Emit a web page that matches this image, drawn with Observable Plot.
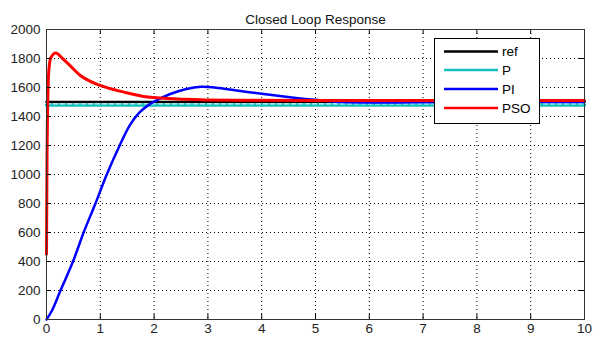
<!DOCTYPE html>
<html>
<head>
<meta charset="utf-8">
<script src="https://cdn.jsdelivr.net/npm/d3@7"></script>
<script src="https://cdn.jsdelivr.net/npm/@observablehq/plot@0.6"></script>
<style>
  body { margin: 0; background: #fff; }
  #wrap { position: relative; width: 593px; height: 342px; font-family: "Liberation Sans", Arial, sans-serif; }
  #legend { position: absolute; left: 434px; top: 38px; }
</style>
</head>
<body>
<div id="wrap"><div id="chart"></div><div id="legend"></div></div>
<script>
const title = "Closed Loop Response";
const xTicks = [0, 1, 2, 3, 4, 5, 6, 7, 8, 9, 10];
const yTicks = [0, 200, 400, 600, 800, 1000, 1200, 1400, 1600, 1800, 2000];

const seriesNames = ["ref", "P", "PI", "PSO"];
const seriesColors = ["#000000", "#14bfbf", "#0000ff", "#ff0000"];

const tRef = [0, 10];
const vRef = [1500, 1500];

const tP = [0, 10];
const vP = [1480, 1480];

const tPI = [0, 0.1, 0.26, 0.5, 0.69, 0.91, 1.12, 1.36, 1.55, 1.72, 1.88, 2.0, 2.3, 2.6, 2.87, 3.2, 3.6, 4.0, 4.6, 5.0, 5.5, 6.5, 7.5, 10];
const vPI = [0, 60, 200, 407, 600, 800, 1000, 1200, 1340, 1425, 1475, 1502, 1555, 1590, 1605, 1597, 1576, 1557, 1530, 1515, 1500, 1497, 1500, 1500];

const tPSO = [0, 0.01, 0.04, 0.08, 0.17, 0.3, 0.4, 0.63, 1.0, 1.44, 1.88, 2.56, 3.5, 5, 10];
const vPSO = [450, 1130, 1700, 1805, 1838, 1800, 1765, 1683, 1614, 1568, 1534, 1519, 1512, 1510, 1510];

const toRows = (ts, vs) => ts.map((t, i) => ({t, v: vs[i]}));
const ref = toRows(tRef, vRef);
const p = toRows(tP, vP);
const pi = toRows(tPI, vPI);
const pso = toRows(tPSO, vPSO);

const W = 593, H = 342, mL = 46, mR = 9, mT = 29, mB = 23;
const plotW = W - mL - mR, plotH = H - mT - mB;
const font = "Liberation Sans, Arial, sans-serif";

const chart = Plot.plot({
  width: W, height: H,
  marginLeft: mL, marginRight: mR, marginTop: mT, marginBottom: mB,
  style: {fontFamily: font, fontSize: "13.5px", color: "#222", background: "white"},
  x: {domain: [0, 10], ticks: xTicks},
  y: {domain: [0, 2000], ticks: yTicks},
  marks: [
    Plot.gridX(xTicks, {stroke: "#000", strokeOpacity: 1, strokeDasharray: "1,3"}),
    Plot.gridY(yTicks, {stroke: "#000", strokeOpacity: 1, strokeDasharray: "1,3"}),
    Plot.line(ref, {x: "t", y: "v", stroke: seriesColors[0], strokeWidth: 2.5}),
    Plot.line(p, {x: "t", y: "v", stroke: seriesColors[1], strokeWidth: 3.5}),
    Plot.line(p, {x: "t", y: "v", stroke: "white", strokeWidth: 1, strokeDasharray: "4,3", dy: -1}),
    Plot.line(pi, {x: "t", y: "v", stroke: seriesColors[2], strokeWidth: 2.5, curve: "catmull-rom"}),
    Plot.line(pso, {x: "t", y: "v", stroke: seriesColors[3], strokeWidth: 3, curve: "monotone-x"}),
    Plot.tickX(xTicks, {x: d => d, stroke: "#000", insetTop: plotH - 5}),
    Plot.tickX(xTicks, {x: d => d, stroke: "#000", insetBottom: plotH - 5}),
    Plot.tickY(yTicks, {y: d => d, stroke: "#000", insetRight: plotW - 5}),
    Plot.tickY(yTicks, {y: d => d, stroke: "#000", insetLeft: plotW - 5}),
    Plot.frame({stroke: "#333"}),
    Plot.axisX(xTicks, {tickSize: 0, tickPadding: 4, label: null, fontSize: 13.5, tickFormat: d => String(d)}),
    Plot.axisY(yTicks, {tickSize: 0, tickPadding: 6, label: null, fontSize: 13.5, tickFormat: d => String(d)}),
    Plot.text([title], {frameAnchor: "top", dy: -15, fontSize: 13.5, fill: "#111"})
  ]
});
document.getElementById("chart").appendChild(chart);

// legend
const lw = 105, lh = 85;
const rowY = [13.5, 32, 51, 70];
const leg = d3.select("#legend").append("svg").attr("width", lw + 1).attr("height", lh + 1)
  .style("font-family", font).style("font-size", "13.5px");
leg.append("rect").attr("x", 0.5).attr("y", 0.5).attr("width", lw).attr("height", lh)
  .attr("fill", "white").attr("stroke", "#000");
seriesNames.forEach((name, i) => {
  leg.append("line").attr("x1", 10).attr("x2", 64).attr("y1", rowY[i]).attr("y2", rowY[i])
    .attr("stroke", seriesColors[i]).attr("stroke-width", 2.5);
  leg.append("text").attr("x", 68).attr("y", rowY[i]).attr("dy", "0.35em").attr("fill", "#000").text(name);
});
</script>
</body>
</html>
